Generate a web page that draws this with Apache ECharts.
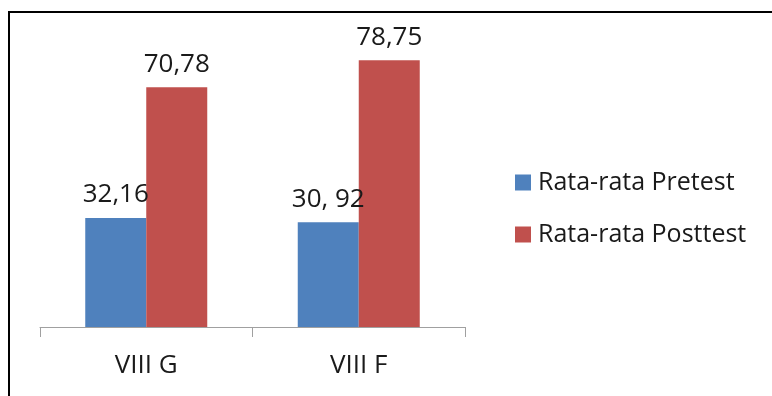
<!DOCTYPE html>
<html>
<head>
<meta charset="utf-8">
<script src="https://cdn.jsdelivr.net/npm/echarts@6/dist/echarts.min.js"></script>
<style>
  html, body { margin: 0; padding: 0; background: #fff; }
  #chart { width: 772px; height: 396px; }
</style>
</head>
<body>
<div id="chart"></div>
<script>
// Class groups and mean scores
const categories = ['VIII G', 'VIII F'];
const pretest = [32.16, 30.92];
const posttest = [70.78, 78.75];
const pretestLabels = ['32,16', '30, 92'];
const posttestLabels = ['70,78', '78,75'];
const seriesNames = ['Rata-rata Pretest', 'Rata-rata Posttest'];

const FONT = '"Open Sans", "Noto Sans", sans-serif';

const chart = echarts.init(document.getElementById('chart'));

function barSeries(name, values, labels, color) {
  return {
    name: name,
    type: 'bar',
    barWidth: 61,
    barGap: '0%',
    data: values,
    itemStyle: { color: color },
    label: {
      show: true,
      position: 'top',
      distance: 10,
      color: '#1a1a1a',
      fontFamily: FONT,
      fontSize: 26,
      formatter: p => labels[p.dataIndex]
    }
  };
}

chart.setOption({
  animation: false,
  backgroundColor: '#fff',
  graphic: [{
    type: 'rect',
    shape: { x: 9, y: 12, width: 900, height: 500 },
    style: { fill: 'none', stroke: '#000', lineWidth: 2 },
    silent: true
  }],
  grid: { left: 40, right: 307, top: 22, bottom: 69 },
  legend: {
    orient: 'vertical',
    left: 510,
    top: 165,
    icon: 'rect',
    itemWidth: 16,
    itemHeight: 16,
    itemGap: 27,
    textStyle: { fontFamily: FONT, fontSize: 25, color: '#1a1a1a', padding: [0, 0, 0, 2] },
    data: seriesNames
  },
  xAxis: {
    type: 'category',
    data: categories,
    axisLine: { lineStyle: { color: '#a0a0a0', width: 1 } },
    axisTick: { show: true, length: 10, lineStyle: { color: '#a0a0a0' } },
    axisLabel: { margin: 26, color: '#1a1a1a', fontFamily: FONT, fontSize: 26 }
  },
  yAxis: {
    type: 'value',
    min: 0,
    max: 90,
    show: false,
    splitLine: { show: false }
  },
  series: [
    barSeries(seriesNames[0], pretest, pretestLabels, '#4F81BD'),
    barSeries(seriesNames[1], posttest, posttestLabels, '#C0504D')
  ]
});
</script>
</body>
</html>
